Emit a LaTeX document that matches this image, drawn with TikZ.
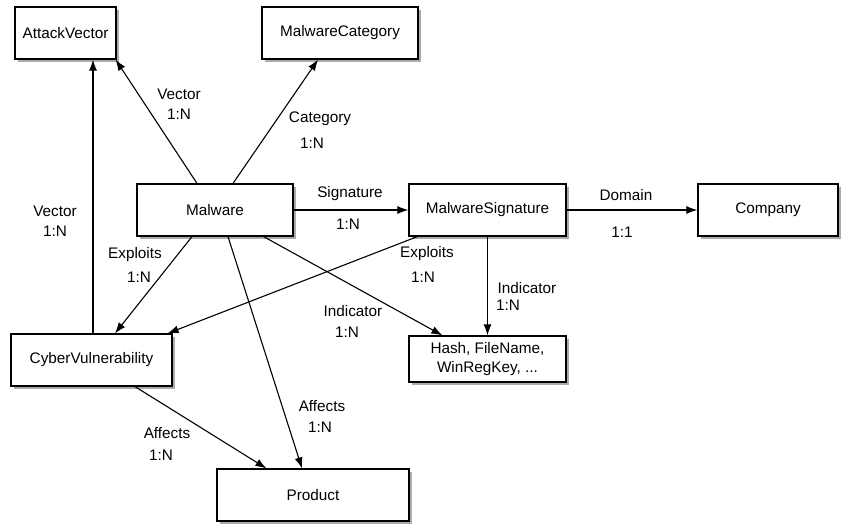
\documentclass[tikz,border=0pt]{standalone}
\usepackage{fontspec}
\setmainfont{Liberation Sans}
\usetikzlibrary{arrows.meta,shadows}
\begin{document}
\begin{tikzpicture}[x=1pt,y=-1pt,
  font=\fontsize{15.3}{18}\selectfont,
  entity/.style={draw=black, line width=1.2pt, fill=white, rectangle, inner sep=0pt,
    minimum height=52pt, align=center,
    drop shadow={shadow xshift=2.5pt, shadow yshift=-3pt, opacity=0.6, fill=black!55}},
  rel/.style={line width=1.1pt, -{Latex[length=11pt,width=8pt]}},
  lbl/.style={inner sep=0pt}]
\useasboundingbox (0,0) rectangle (843,523);
% entities
\node[entity, minimum width=101pt] (AV) at (65.5,33) {AttackVector};
\node[entity, minimum width=156pt] (MC) at (340,33) {MalwareCategory};
\node[entity, minimum width=156pt] (Mw) at (215,210) {Malware};
\node[entity, minimum width=157pt] (MS) at (487.5,210) {MalwareSignature};
\node[entity, minimum width=140pt] (Co) at (768,210) {Company};
\node[entity, minimum width=157pt, minimum height=46pt, font=\fontsize{15.3}{18.5}\selectfont] (Hs) at (487.5,359) {Hash, FileName,\\WinRegKey, ...};
\node[entity, minimum width=161pt] (CV) at (91.5,360) {CyberVulnerability};
\node[entity, minimum width=192pt] (Pr) at (313,495) {Product};
% connectors
\draw[rel] ([xshift=-18pt]Mw.north) -- ([xshift=-1pt]AV.south east);
\draw[rel] ([xshift=18pt]Mw.north) -- ([xshift=-22pt]MC.south);
\draw[rel] ([xshift=1.5pt]CV.north) -- ([xshift=27.5pt]AV.south);
\draw[rel] (Mw.east) -- (MS.west);
\draw[rel] (MS.east) -- (Co.west);
\draw[rel] ([xshift=-23pt]Mw.south) -- ([xshift=23.5pt]CV.north);
\draw[rel] ([xshift=9pt]MS.south west) -- ([xshift=-5pt]CV.north east);
\draw[rel] ([xshift=13pt]Mw.south) -- ([xshift=-11pt]Pr.north);
\draw[rel] ([xshift=-30pt]Mw.south east) -- ([xshift=34pt]Hs.north west);
\draw[rel] (MS.south) -- (Hs.north);
\draw[rel] ([xshift=43.5pt]CV.south) -- ([xshift=50pt]Pr.north west);
% labels
\node[lbl] (l1a) at (179,94) {Vector};
\node[lbl] (l1b) at (179,114) {1:N};
\node[lbl] (l2a) at (320,119) {Category};
\node[lbl] (l2b) at (312,143) {1:N};
\node[lbl] (l3a) at (350,194) {Signature};
\node[lbl] (l3b) at (348,224) {1:N};
\node[lbl] (l4a) at (55,211) {Vector};
\node[lbl] (l4b) at (55,231) {1:N};
\node[lbl] (l5a) at (135,255) {Exploits};
\node[lbl] (l5b) at (139,277) {1:N};
\node[lbl] (l6a) at (427,254) {Exploits};
\node[lbl] (l6b) at (423,277) {1:N};
\node[lbl] (l7a) at (353,311) {Indicator};
\node[lbl] (l7b) at (347,332) {1:N};
\node[lbl] (l8a) at (527,288) {Indicator};
\node[lbl] (l8b) at (508,305) {1:N};
\node[lbl] (l9a) at (626,195) {Domain};
\node[lbl] (l9b) at (622,232) {1:1};
\node[lbl] (l10a) at (322,406) {Affects};
\node[lbl] (l10b) at (320,427) {1:N};
\node[lbl] (l11a) at (167,433) {Affects};
\node[lbl] (l11b) at (161,455) {1:N};
\end{tikzpicture}
\end{document}
